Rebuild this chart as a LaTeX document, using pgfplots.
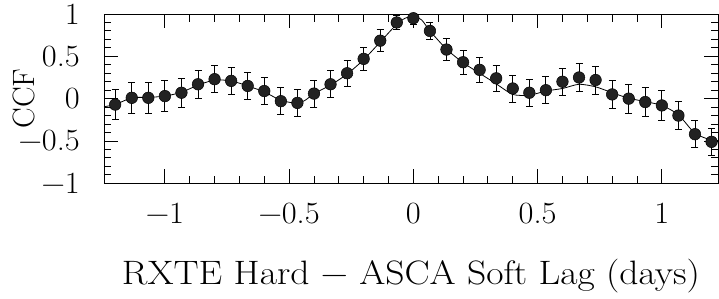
\documentclass[border=0pt]{standalone}
\usepackage{pgfplots}
\pgfplotsset{compat=1.18}
\definecolor{dotfill}{HTML}{222222}
\begin{document}
\begin{tikzpicture}
\begin{axis}[
  at={(0,0)}, anchor=south west,
  scale only axis, width=614bp, height=169.3bp,
  xmin=-1.245, xmax=1.226, ymin=-1, ymax=1,
  xtick={-1,-0.5,0,0.5,1}, ytick={-1,-0.5,0,0.5,1},
  xticklabels={−1,−0.5,0,0.5,1}, yticklabels={−1,−0.5,0,0.5,1},
  minor x tick num=4, minor y tick num=4,
  tick align=inside, xtick pos=both, ytick pos=both,
  major tick length=14bp, minor tick length=7.5bp,
  axis line style={line width=0.9bp},
  every tick/.style={black, line width=0.9bp},
  tick label style={font=\fontsize{31}{36}\selectfont},
  xticklabel style={anchor=base, inner sep=0pt, yshift=-40bp, xscale=1.05},
  yticklabel style={anchor=east, inner sep=0pt, xshift=-24bp, xscale=1.05},
  xlabel={RXTE Hard − ASCA Soft Lag (days)},
  xlabel style={font=\fontsize{34}{40}\selectfont, at={(axis description cs:0.5,0)}, anchor=base, yshift=-101bp, inner sep=0pt, xscale=1.11},
  ylabel={CCF},
  ylabel style={font=\fontsize{31}{36}\selectfont, at={(axis description cs:-0.130,0.5)}, anchor=center, inner sep=0pt},
]
\addplot[black, line width=0.8bp, smooth, tension=0.4] coordinates {
(-1.245,-0.095) (-1.2,-0.07) (-1.1333,0.01) (-1.0667,0.015) (-1.0,0.03)
(-0.9333,0.075) (-0.8667,0.16) (-0.8,0.22) (-0.7333,0.21) (-0.6667,0.15)
(-0.6,0.08) (-0.5333,-0.02) (-0.4667,-0.055) (-0.4333,-0.015) (-0.4,0.06)
(-0.3333,0.16) (-0.2667,0.29) (-0.2,0.46) (-0.1333,0.67) (-0.0667,0.88)
(-0.0333,0.95) (0.0,0.97) (0.0333,0.93) (0.0667,0.80) (0.1333,0.585)
(0.2,0.425) (0.2667,0.30) (0.3333,0.175) (0.4,0.05) (0.4667,0.04)
(0.5333,0.09) (0.6,0.12) (0.6667,0.17) (0.7333,0.14) (0.8,0.07)
(0.8667,0.005) (0.9333,-0.035) (1.0,-0.08) (1.0667,-0.19) (1.1333,-0.41)
(1.2,-0.49) (1.226,-0.495)
};
\addplot[black, line width=0.8bp, only marks,
  mark=*, mark size=5.8bp, mark options={fill=dotfill, draw=black, line width=0.5bp},
  error bars/.cd, y dir=both, y explicit,
  error bar style={line width=0.8bp, black},
  error mark options={rotate=90, mark size=3.5bp, line width=0.8bp, black}]
table[x=x, y=y, y error=e] {
x y e
-1.2 -0.07 0.18
-1.1333 0.01 0.18
-1.0667 0.01 0.18
-1.0 0.03 0.18
-0.9333 0.07 0.175
-0.8667 0.17 0.167
-0.8 0.23 0.157
-0.7333 0.21 0.157
-0.6667 0.15 0.163
-0.6 0.09 0.16
-0.5333 -0.03 0.16
-0.4667 -0.05 0.157
-0.4 0.06 0.16
-0.3333 0.17 0.16
-0.2667 0.30 0.15
-0.2 0.47 0.14
-0.1333 0.685 0.13
-0.0667 0.90 0.08
0.0 0.95 0.07
0.0667 0.80 0.10
0.1333 0.58 0.13
0.2 0.43 0.14
0.2667 0.34 0.15
0.3333 0.24 0.155
0.4 0.12 0.16
0.4667 0.07 0.16
0.5333 0.10 0.16
0.6 0.20 0.16
0.6667 0.25 0.165
0.7333 0.22 0.165
0.8 0.05 0.17
0.8667 0.00 0.17
0.9333 -0.04 0.17
1.0 -0.08 0.173
1.0667 -0.20 0.167
1.1333 -0.42 0.16
1.2 -0.51 0.16
};
\end{axis}
\pgfresetboundingbox
\path (-104bp,-115.7bp) rectangle (615bp,183.3bp);
\end{tikzpicture}
\end{document}
